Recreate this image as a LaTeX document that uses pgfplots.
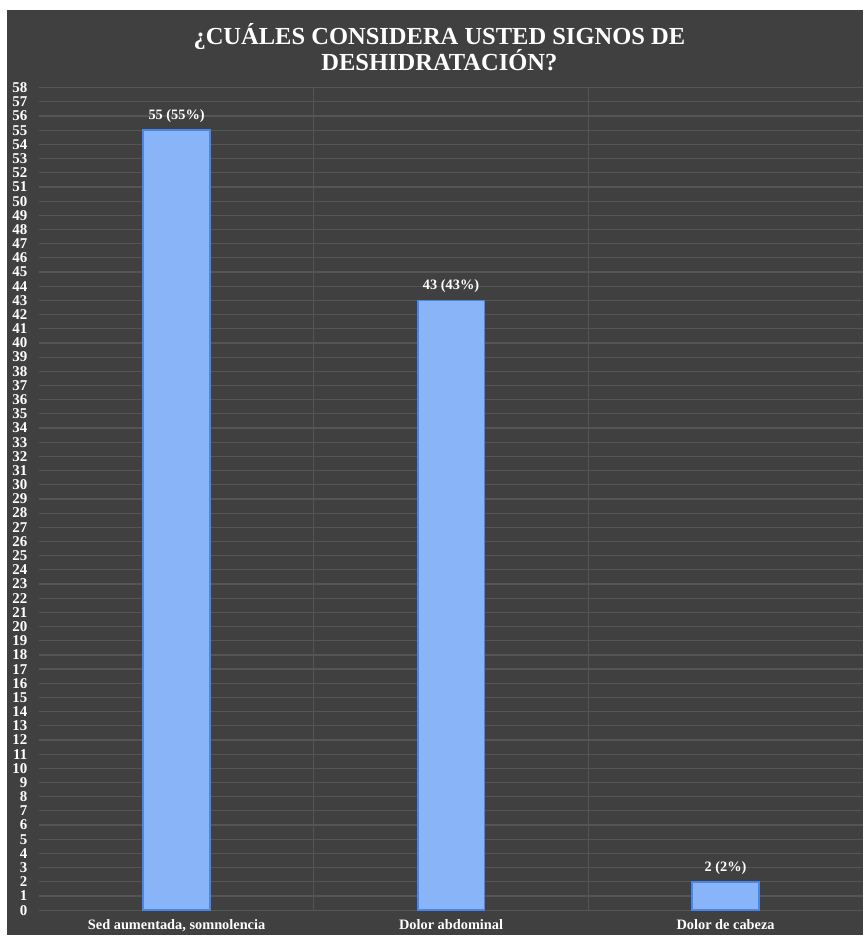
\documentclass[border=0pt]{standalone}
\usepackage{fontspec}
\setmainfont{Liberation Serif}
\newfontfamily\titlefont{Liberation Serif}[BoldFont={Liberation Serif Bold}]
\usepackage{pgfplots}
\pgfplotsset{compat=1.18}
\definecolor{bgdark}{HTML}{404040}
\definecolor{gridc}{HTML}{555555}
\definecolor{barfill}{HTML}{8AB4F8}
\definecolor{barline}{HTML}{4A86E8}
\begin{document}
\begin{tikzpicture}
\fill[white] (0,0) rectangle (433pt,469pt);
\fill[bgdark] (3.5pt,0) rectangle (433pt,464pt);
\node[align=center, text=white, font=\titlefont\bfseries\fontsize{12.3}{13.2}\selectfont] at (220.5pt,445.5pt)
  {¿CUÁLES CONSIDERA USTED SIGNOS DE\\DESHIDRATACIÓN?};
\begin{axis}[
  at={(19.75pt,12.25pt)}, anchor=south west,
  scale only axis, width=413.25pt, height=412.75pt,
  xmin=-0.5, xmax=2.5, ymin=0, ymax=58,
  axis line style={draw=none},
  xtick={0,1,2},
  xticklabels={Sed aumentada{,} somnolencia, Dolor abdominal, Dolor de cabeza},
  minor xtick={0.5,1.5},
  ytick distance=1,
  ymajorgrids, xminorgrids,
  major grid style={gridc, line width=0.6pt},
  minor grid style={gridc, line width=0.6pt},
  major tick length=0pt, minor tick length=0pt,
  /pgf/number format/assume math mode=true,
  yticklabel style={font=\bfseries\fontsize{7.5}{7.5}\selectfont, text=white, xshift=-2.5pt},
  xticklabel style={font=\bfseries\fontsize{7.2}{7.2}\selectfont, text=white, yshift=-1pt},
  ybar, bar width=33.5pt,
  nodes near coords={\pgfmathprintnumber{\pgfplotspointmeta} (\pgfmathprintnumber{\pgfplotspointmeta}\%)},
  nodes near coords style={font=\bfseries\fontsize{7.2}{7.2}\selectfont, text=white},
]
\addplot[fill=barfill, draw=barline, line width=0.8pt] coordinates {(0,55) (1,43) (2,2)};
\end{axis}
\end{tikzpicture}
\end{document}
